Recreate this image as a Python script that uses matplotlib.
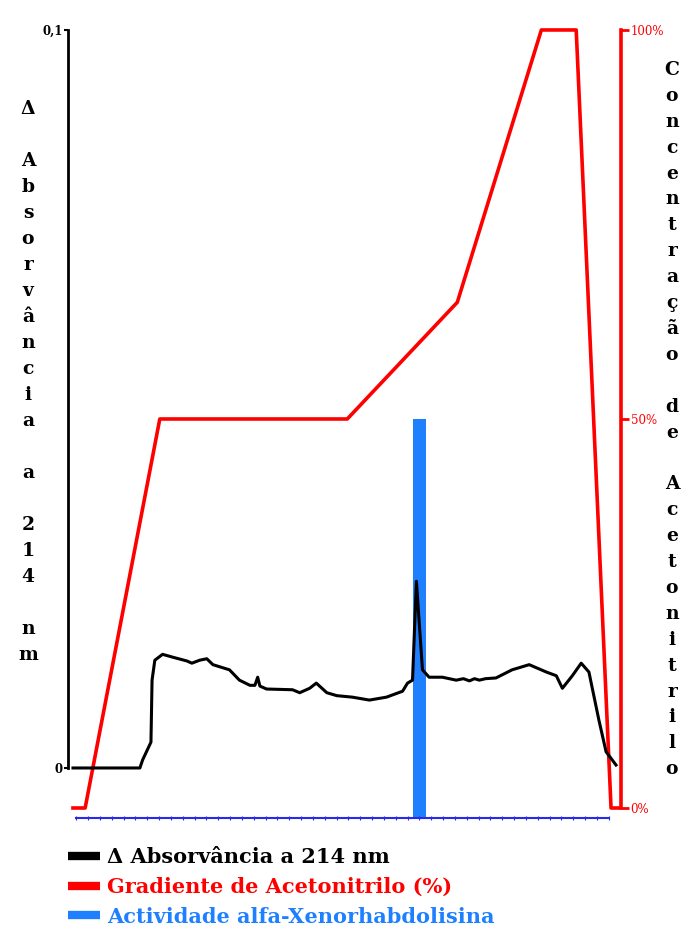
import numpy as np
import matplotlib
matplotlib.use("Agg")
import matplotlib.pyplot as plt

# elution position (0-100, arbitrary run scale) and absorbance
abs_x = [0.9, 13.0, 13.5, 15.0, 15.2, 15.7, 17.1, 19.0, 21.5, 22.4, 23.8, 25.1, 26.2,
         29.2, 31.0, 32.9, 33.8, 34.3, 34.7, 35.9, 40.6, 41.9, 43.7, 44.9, 46.8, 48.6,
         51.4, 54.5, 57.6, 60.5, 61.4, 62.3, 63.0, 64.1, 65.3, 67.7, 70.2, 71.5, 72.6,
         73.5, 74.4, 75.5, 77.4, 80.3, 83.4, 86.5, 88.3, 89.4, 91.2, 92.8, 94.2, 96.0,
         97.3, 99.1]
absorb = [0.0, 0.0, 0.0011, 0.0035, 0.0119, 0.0146, 0.0154, 0.0150, 0.0145, 0.0142,
          0.0146, 0.0148, 0.0140, 0.0133, 0.0119, 0.0112, 0.0112, 0.0123, 0.0111, 0.0107,
          0.0106, 0.0102, 0.0108, 0.0115, 0.0102, 0.0098, 0.0096, 0.0092, 0.0096, 0.0104,
          0.0115, 0.0119, 0.0253, 0.0133, 0.0123, 0.0123, 0.0119, 0.0121, 0.0118, 0.0121,
          0.0119, 0.0121, 0.0122, 0.0133, 0.0140, 0.0130, 0.0125, 0.0108, 0.0125, 0.0142,
          0.0130, 0.0065, 0.0022, 0.0004]

# acetonitrile gradient (%)
grad_x = [0.9, 3.1, 16.6, 50.5, 70.4, 85.6, 91.9, 98.2, 100.0]
grad_pct = [0, 0, 50, 50, 65, 100, 100, 0, 0]

# collected fractions and alfa-Xenorhabdolisina activity
n_frac = 46
frac_x = 1.5 + 2.14 * np.arange(n_frac)
activity = np.zeros(n_frac)
activity[29] = 50

legend_labels = ["\u0394 Absorvância a 214 nm", "Gradiente de Acetonitrilo (%)",
                 "Actividade alfa-Xenorhabdolisina"]
left_title = ["\u0394", "", "A", "b", "s", "o", "r", "v", "â", "n", "c", "i", "a", "",
              "a", "", "2", "1", "4", "", "n", "m"]
right_title = list("Concentração") + [""] + list("de") + [""] + list("Acetonitrilo")

serif = "DejaVu Serif"
red = "#ff0000"
bar_blue = "#1e80ff"
base_blue = "#2a2aee"

W, H = 683, 925
fig = plt.figure(figsize=(W / 100, H / 100), dpi=100)
left, right, top, bottom = 68, 621, 26, 822
ax = fig.add_axes([left / W, 1 - bottom / H, (right - left) / W, (bottom - top) / H])
ax2 = ax.twinx()

# absorbance on top of everything
ax.set_zorder(ax2.get_zorder() + 1)
ax.patch.set_visible(False)

ax.plot(abs_x, absorb, color="black", lw=2.2, solid_joinstyle="round")

ax2.plot(grad_x, grad_pct, color=red, lw=2.6)
base = -1.3
ax2.plot(frac_x, np.full(n_frac, base), color=base_blue, lw=1.5,
         marker="|", ms=3, mew=0.8)
hit = activity > 0
ax2.bar(frac_x[hit], activity[hit] - base, bottom=base, width=2.5,
        color=bar_blue, linewidth=0)

ax.set_xlim(0, 100)
ax.set_ylim(-0.00732, 0.10054)
ax2.set_ylim(-1.8, 100.51)

for a in (ax, ax2):
    for s in ("top", "bottom"):
        a.spines[s].set_visible(False)
    a.set_xticks([])
ax.spines["right"].set_visible(False)
ax2.spines["left"].set_visible(False)

ax.spines["left"].set_bounds(0, 0.1)
ax.spines["left"].set_linewidth(2)
ax.set_yticks([0, 0.1])
ax.set_yticklabels(["0", "0,1"], fontfamily=serif, fontweight="bold", fontsize=8.5)
ax.tick_params(axis="y", length=3, width=1.5, pad=1)

ax2.spines["right"].set_bounds(0, 100)
ax2.spines["right"].set_linewidth(2.6)
ax2.spines["right"].set_color(red)
ax2.set_yticks([0, 50, 100])
ax2.set_yticklabels(["0%", "50%", "100%"], fontfamily=serif, fontsize=8.5, color=red)
ax2.tick_params(axis="y", length=6, width=2, color=red, pad=1)

# stacked axis titles
step = 26
for i, ch in enumerate(left_title):
    fig.text(28 / W, 1 - (109 + i * step) / H, ch, ha="center", va="center",
             fontfamily=serif, fontweight="bold", fontsize=13.5)
for i, ch in enumerate(right_title):
    fig.text(672 / W, 1 - (70 + i * 25.9) / H, ch, ha="center", va="center",
             fontfamily=serif, fontweight="bold", fontsize=13.5)

proxies = [plt.Line2D([], [], color="black", solid_capstyle="butt"),
           plt.Line2D([], [], color=red, solid_capstyle="butt"),
           plt.Line2D([], [], color=bar_blue, solid_capstyle="butt")]
leg = fig.legend(proxies, legend_labels, loc="upper left",
                 bbox_to_anchor=(68 / W, 1 - 847 / H), frameon=False,
                 handlelength=1.55, handletextpad=0.34, labelspacing=0.47,
                 prop={"family": serif, "weight": "bold", "size": 15},
                 labelcolor="linecolor", borderaxespad=0, borderpad=0)
for ln in leg.get_lines():
    ln.set_linewidth(6)

fig.savefig("out.png", dpi=100)
